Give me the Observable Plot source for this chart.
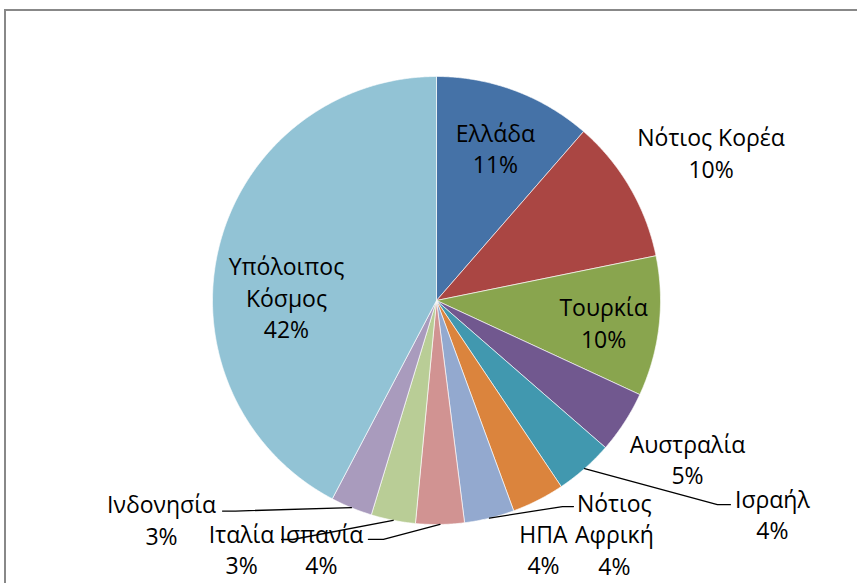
<!DOCTYPE html>
<html>
<head>
<meta charset="utf-8">
<script src="https://cdn.jsdelivr.net/npm/d3@7"></script>
<script src="https://cdn.jsdelivr.net/npm/@observablehq/plot@0.6"></script>
<style>
  html, body { margin: 0; padding: 0; background: #fff; }
  #wrap { position: relative; width: 857px; height: 583px; overflow: hidden; }
  #border { position: absolute; left: 4px; top: 9px; width: 900px; height: 700px; border: 2px solid #888; box-sizing: border-box; }
  #chart { position: absolute; left: 0; top: 0; }
</style>
</head>
<body>
<div id="wrap"><div id="border"></div><div id="chart"></div></div>
<script>
// ---- data ----
const categories = ["Ελλάδα", "Νότιος Κορέα", "Τουρκία", "Αυστραλία", "Ισραήλ", "Νότιος Αφρική", "ΗΠΑ", "Ισπανία", "Ιταλία", "Ινδονησία", "Υπόλοιπος Κόσμος"];
const shares = [11.4, 10.4, 10.1, 4.5, 4.2, 3.8, 3.6, 3.5, 3.2, 3.0, 42.3];
const colors = ["#4572A7", "#AA4643", "#89A54E", "#71588F", "#4198AF", "#DB843D", "#93A9CF", "#D19392", "#B9CD96", "#A99BBD", "#92C3D5"];
const wrapped = ["Νότιος Αφρική", "Υπόλοιπος Κόσμος"];

// ---- label layout (angle offset from slice middle in degrees, radius as fraction of R) ----
const labelPlace = [[0.5, 0.733], [1.8, 1.394], [0.66, 0.752], [-0.75, 1.324], [-16.2, 1.776], [-10.4, 1.307], [-9.65, 1.206], [25.8, 1.22], [27.0, 1.408], [29.2, 1.568], [-12.3, 0.67]];
// leader lines: slice index, end offset from label centre, stub length
const leaders = [
  {i: 4, dx: -42, dy: -9, stub: -13},
  {i: 6, dx: 30, dy: -42, stub: -11},
  {i: 7, dx: 47, dy: -9, stub: 15},
  {i: 8, dx: 40, dy: -9, stub: 11},
  {i: 9, dx: 61, dy: -8, stub: 13}
];

const W = 857, H = 583, cx = 436, cy = 300, R = 224;
const arcs = d3.pie().sort(null).value(d => d)(shares);

const slicePts = [];
arcs.forEach((a, i) => {
  const k = categories[i];
  slicePts.push({k, x: cx, y: cy});
  const n = Math.max(4, Math.ceil((a.endAngle - a.startAngle) / 0.005));
  for (let j = 0; j <= n; j++) {
    const t = a.startAngle + (a.endAngle - a.startAngle) * j / n;
    slicePts.push({k, x: cx + R * Math.sin(t), y: cy - R * Math.cos(t)});
  }
  slicePts.push({k, x: cx, y: cy});
});

const labels = arcs.map((a, i) => {
  const mid = (a.startAngle + a.endAngle) / 2 + labelPlace[i][0] * Math.PI / 180;
  const r = labelPlace[i][1] * R;
  const name = wrapped.includes(categories[i]) ? categories[i].replace(" ", "\n") : categories[i];
  return {x: cx + r * Math.sin(mid), y: cy - r * Math.cos(mid), text: name + "\n" + Math.round(shares[i]) + "%"};
});

const leaderPts = [];
leaders.forEach((L, j) => {
  const a = arcs[L.i];
  const mid = (a.startAngle + a.endAngle) / 2;
  const lab = labels[L.i];
  const ex = lab.x + L.dx, ey = lab.y + L.dy;
  leaderPts.push({g: j, x: cx + R * Math.sin(mid), y: cy - R * Math.cos(mid)});
  leaderPts.push({g: j, x: ex + L.stub, y: ey});
  leaderPts.push({g: j, x: ex, y: ey});
});

const fs = 23;
const chart = Plot.plot({
  width: W, height: H,
  margin: 0,
  x: {domain: [0, W], range: [0, W], axis: null},
  y: {domain: [0, H], range: [0, H], axis: null},
  color: {domain: categories, range: colors},
  style: {background: "transparent", fontFamily: "'Open Sans', sans-serif"},
  marks: [
    Plot.line(slicePts, {x: "x", y: "y", z: "k", fill: "k", stroke: "#fff", strokeWidth: 0.8, strokeOpacity: 0.8}),
    Plot.line(leaderPts, {x: "x", y: "y", z: "g", stroke: "#000", strokeWidth: 1.3}),
    Plot.text(labels, {x: "x", y: "y", text: "text", fontSize: fs, lineHeight: 31.5 / fs, fill: "#000", fontFamily: "'Open Sans', sans-serif"})
  ]
});
document.getElementById("chart").appendChild(chart);
</script>
</body>
</html>
